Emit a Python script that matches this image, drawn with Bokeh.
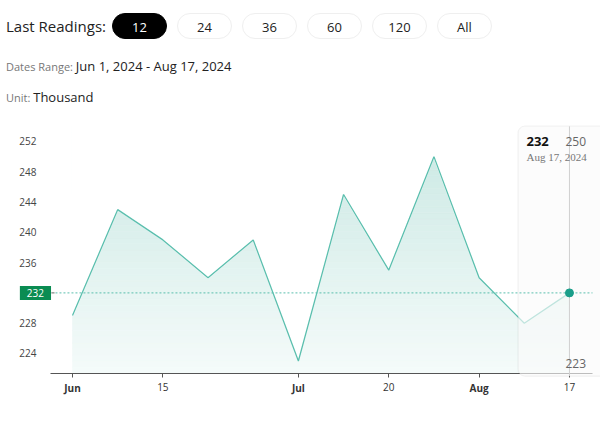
from bokeh.plotting import figure
from bokeh.models import FixedTicker, BoxAnnotation, Label, Div, ColumnDataSource
from bokeh.layouts import column
from bokeh.embed import file_html
from bokeh.resources import INLINE

# ---- data ----
dates = ["Jun 1", "Jun 8", "Jun 15", "Jun 22", "Jun 29", "Jul 6",
         "Jul 13", "Jul 20", "Jul 27", "Aug 3", "Aug 10", "Aug 17"]
values = [229, 243, 239, 234, 239, 223, 245, 235, 250, 234, 228, 232]
x_tick_idx = [0, 2, 5, 7, 9, 11]
x_tick_labels = ["Jun", "15", "Jul", "20", "Aug", "17"]
month_labels = ["Jun", "Jul", "Aug"]
y_ticks = [224, 228, 232, 236, 240, 244, 248, 252]
last_value = 232
max_value = 250
min_value = 223
last_date = "Aug 17, 2024"
readings_options = ["12", "24", "36", "60", "120", "All"]
date_range = "Jun 1, 2024 - Aug 17, 2024"
unit = "Thousand"

x = list(range(len(values)))
FONT = "Open Sans"
LINE = "#5bbfae"

# ---- header (HTML) ----
pills = ""
for i, opt in enumerate(readings_options):
    left = 112 + i * 65
    if i == 0:
        st = "background:#000;color:#fff;border:1px solid #000;"
    else:
        st = "background:#fff;color:#222;border:1px solid #efefef;"
    pills += (f'<div style="position:absolute;left:{left}px;top:13px;width:55px;height:26px;'
              f'border-radius:14px;{st}font-size:13px;line-height:26px;text-align:center;">{opt}</div>')
header_html = (
    f'<div style="position:relative;width:600px;height:120px;font-family:\'{FONT}\',sans-serif;">'
    f'<div style="position:absolute;left:6px;top:16px;font-size:15px;color:#222;">Last Readings:</div>'
    f'{pills}'
    f'<div style="position:absolute;left:6px;top:57px;color:#777;font-size:11px;">Dates Range: '
    f'<span style="color:#222;font-size:13px;">{date_range}</span></div>'
    f'<div style="position:absolute;left:6px;top:88px;color:#777;font-size:11px;">Unit: '
    f'<span style="color:#222;font-size:13px;">{unit}</span></div>'
    f'</div>'
)
header = Div(text=header_html, width=600, height=120, margin=0)

# ---- chart (frame covers the whole figure; axes placed with fixed_location) ----
x_lo_plot, x_hi_plot = -0.487, 11.51      # plotting area edges
y_lo, y_hi = 221.35, 254.0                 # plotting area bottom / top
p = figure(width=600, height=309, x_range=(-1.5936, 11.687), y_range=(213.956, 254.774),
           output_backend="svg", toolbar_location=None,
           min_border_left=0, min_border_right=0, min_border_top=0, min_border_bottom=0)
p.outline_line_color = None
p.xgrid.visible = False
p.ygrid.visible = False
p.background_fill_color = "white"
p.border_fill_color = "white"

# gradient fill via horizontal bands, masked above the line
n = 40
top_c = (201, 232, 227)
bot_c = (245, 251, 250)
bl, br, bb, bt, bc = [], [], [], [], []
for k in range(n):
    f0 = k / n
    f1 = (k + 1) / n
    fm = (f0 + f1) / 2
    c = tuple(int(round(bot_c[j] + (top_c[j] - bot_c[j]) * fm)) for j in range(3))
    bl.append(x[0]); br.append(x[-1])
    bb.append(y_lo + (y_hi - y_lo) * f0); bt.append(y_lo + (y_hi - y_lo) * f1)
    bc.append("#%02x%02x%02x" % c)
p.quad(left=bl, right=br, bottom=bb, top=bt, fill_color=bc, line_color=bc, line_width=0.6)
mask_x = x + [x[-1], x[0]]
mask_y = values + [y_hi + 0.5, y_hi + 0.5]
p.patch(mask_x, mask_y, fill_color="white", line_color="white", line_width=1.6)
src = ColumnDataSource(dict(x=x, y=values))
p.line(x="x", y="y", source=src, line_color=LINE, line_width=1.3)

# tooltip box (with a faint shadow)
bx_left = (518 - 72) / 45.18
p.add_layout(BoxAnnotation(left=bx_left - 0.03, right=13, top=y_hi + 0.1, bottom=y_lo - 0.45,
                           fill_color="#000000", fill_alpha=0.03, line_color=None,
                           border_radius=8))
p.add_layout(BoxAnnotation(left=bx_left, right=13, top=y_hi, bottom=y_lo - 0.3,
                           fill_color="white", fill_alpha=0.62, line_color="#e4e4e4",
                           line_width=1, border_radius=6))

# dashed last-value line, crosshair, last point
p.segment(x0=[x_lo_plot + 0.11], x1=[x_hi_plot], y0=[last_value], y1=[last_value],
          line_color=LINE, line_dash="2 2", line_width=1, level="overlay")
p.segment(x0=[x_lo_plot + 0.02], x1=[x_lo_plot + 0.09], y0=[last_value], y1=[last_value],
          line_color="#666", line_width=1, level="overlay")
p.segment(x0=[x[-1]], x1=[x[-1]], y0=[y_lo - 0.3], y1=[y_hi],
          line_color="#d0d0d0", line_width=1, level="overlay")
p.scatter([x[-1]], [values[-1]], size=8, fill_color="#1a9e8a", line_color="#1a9e8a",
          level="overlay")

# axes
p.yaxis.fixed_location = x_lo_plot
p.yaxis.ticker = FixedTicker(ticks=[t for t in y_ticks if t != last_value])
p.yaxis.axis_line_color = None
p.yaxis.major_tick_line_color = None
p.yaxis.minor_tick_line_color = None
p.yaxis.major_label_standoff = 8
p.yaxis.major_label_text_font = FONT
p.yaxis.major_label_text_font_size = "10px"
p.yaxis.major_label_text_color = "#444"

p.xaxis.fixed_location = y_lo
p.xaxis.bounds = (x_lo_plot, x_hi_plot)
p.xaxis.ticker = FixedTicker(ticks=x_tick_idx)
p.xaxis.major_label_overrides = {t: ("" if lab in month_labels else lab)
                                 for t, lab in zip(x_tick_idx, x_tick_labels)}
p.xaxis.axis_line_color = "#555"
p.xaxis.major_tick_line_color = "#555"
p.xaxis.major_tick_in = 0
p.xaxis.major_tick_out = 4
p.xaxis.minor_tick_line_color = None
p.xaxis.major_label_standoff = 5
p.xaxis.major_label_text_font = FONT
p.xaxis.major_label_text_font_size = "10px"
p.xaxis.major_label_text_color = "#333"

for t, lab in zip(x_tick_idx, x_tick_labels):
    if lab in month_labels:
        p.add_layout(Label(x=t, y=y_lo, y_offset=-14, text=lab, text_align="center",
                           text_baseline="middle", text_font=FONT, text_font_size="10px",
                           text_font_style="bold", text_color="#333"))

# green last-value tag
p.add_layout(Label(x=-0.82, y=last_value, text=str(last_value), text_align="center",
                   text_baseline="middle", text_color="white", text_font=FONT,
                   text_font_size="10px", background_fill_color="#0a8c52",
                   padding=dict(left=7, right=7, top=3, bottom=3), level="overlay"))

# tooltip texts
p.add_layout(Label(x=x[-1], y=y_hi, x_offset=-43, y_offset=-15, text=str(last_value),
                   text_font=FONT, text_font_size="13px", text_font_style="bold",
                   text_color="#111", text_baseline="middle", level="overlay"))
p.add_layout(Label(x=x[-1], y=y_hi, x_offset=-4, y_offset=-15, text=str(max_value),
                   text_font=FONT, text_font_size="12px", text_color="#666",
                   text_baseline="middle", level="overlay"))
p.add_layout(Label(x=x[-1], y=y_hi, x_offset=-43, y_offset=-31, text=last_date,
                   text_font="Liberation Serif", text_font_size="11px", text_color="#777",
                   text_baseline="middle", level="overlay"))
p.add_layout(Label(x=x[-1], y=y_lo, x_offset=-4, y_offset=10, text=str(min_value),
                   text_font=FONT, text_font_size="12px", text_color="#666",
                   text_baseline="middle", level="overlay"))

layout = column(header, p, spacing=0)
open("out.html", "w").write(file_html(layout, INLINE))
